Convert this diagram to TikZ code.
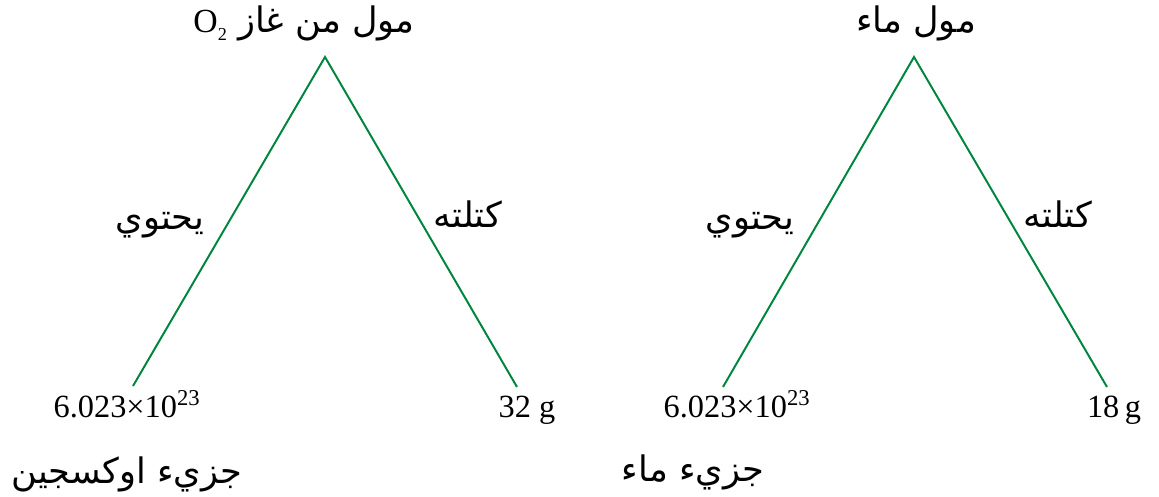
\documentclass[tikz,border=0pt]{standalone}
\usepackage{fontspec}
\setmainfont{Liberation Serif}
\newfontfamily\arabicfont[Script=Arabic]{DejaVu Sans}
\TeXXeTstate=1
\usetikzlibrary{positioning}
\definecolor{branchgreen}{RGB}{0,133,62}
\tikzset{
  branch/.style={draw=branchgreen, line width=1.4pt},
  arlabel/.style={font=\arabicfont\fontsize{25}{29}\selectfont, inner sep=0pt, anchor=base},
  numlabel/.style={font=\fontsize{23}{27}\selectfont, inner sep=0pt, anchor=base}
}

\begin{document}
\begin{tikzpicture}[x=0.025cm, y=-0.025cm]
  \useasboundingbox (0,0) rectangle (1159,497);
  % oxygen
  \coordinate (oxtop) at (325,57);
  \coordinate (oxleft) at (133,386);
  \coordinate (oxright) at (517,387);
  \node[arlabel] (oxmol) at (304,33) {\beginR مول من غاز \beginL{\rmfamily\fontsize{24}{28}\selectfont O\raisebox{-0.5ex}{\fontsize{13}{15}\selectfont 2}}\endL\endR};
  \node[arlabel] (oxcont) at (160,230) {\beginR يحتوي\endR};
  \node[arlabel] (oxmass) at (468,228) {\beginR كتلته\endR};
  \node[numlabel] (oxnum) at (127,418) {6.023×10\textsuperscript{23}};
  \node[numlabel] (oxgram) at (527,418) {32 g};
  \node[arlabel] (oxmolec) at (127,484) {\beginR جزيء اوكسجين\endR};
  \draw[branch] (oxleft) -- (oxtop) -- (oxright);
  % water
  \coordinate (wtop) at (914,57);
  \coordinate (wleft) at (723,387);
  \coordinate (wright) at (1107,387);
  \node[arlabel] (wmol) at (916,33) {\beginR مول ماء\endR};
  \node[arlabel] (wcont) at (750,230) {\beginR يحتوي\endR};
  \node[arlabel] (wmass) at (1058,228) {\beginR كتلته\endR};
  \node[numlabel] (wnum) at (737,418) {6.023×10\textsuperscript{23}};
  \node[numlabel] (wgram) at (1114,418) {18\,g};
  \node[arlabel] (wmolec) at (693,482) {\beginR جزيء ماء\endR};
  \draw[branch] (wleft) -- (wtop) -- (wright);
\end{tikzpicture}
\end{document}
